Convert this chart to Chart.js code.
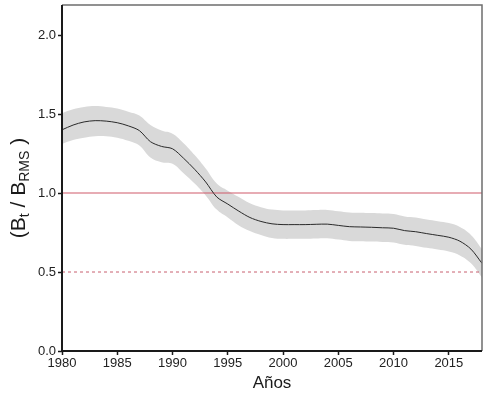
<!DOCTYPE html>
<html>
<head>
<meta charset="utf-8">
<script src="https://cdn.jsdelivr.net/npm/chart.js@4"></script>
<style>
html,body{margin:0;padding:0;background:#fff;}
#wrap{width:492px;height:397px;position:relative;}
</style>
</head>
<body>
<div id="wrap"><canvas id="c" width="492" height="397"></canvas></div>
<script>
const years = [1980,1981,1982,1983,1984,1985,1986,1987,1988,1989,1990,1991,1992,1993,1994,1995,1996,1997,1998,1999,2000,2001,2002,2003,2004,2005,2006,2007,2008,2009,2010,2011,2012,2013,2014,2015,2016,2017,2018];
const ratio = [1.40,1.43,1.45,1.458,1.455,1.445,1.425,1.395,1.325,1.295,1.28,1.22,1.15,1.07,0.975,0.93,0.885,0.845,0.82,0.805,0.80,0.80,0.80,0.802,0.803,0.795,0.787,0.785,0.783,0.78,0.777,0.762,0.755,0.743,0.732,0.72,0.695,0.645,0.555];
const upper = [1.505,1.53,1.545,1.55,1.545,1.535,1.515,1.49,1.43,1.395,1.375,1.315,1.24,1.155,1.06,1.015,0.975,0.935,0.91,0.895,0.89,0.89,0.89,0.892,0.893,0.885,0.877,0.875,0.873,0.87,0.867,0.852,0.845,0.833,0.822,0.81,0.785,0.735,0.645];
const lower = [1.31,1.335,1.35,1.36,1.36,1.35,1.33,1.30,1.225,1.195,1.185,1.125,1.06,0.985,0.895,0.845,0.795,0.76,0.735,0.715,0.71,0.71,0.71,0.712,0.713,0.705,0.697,0.695,0.693,0.69,0.687,0.672,0.665,0.653,0.642,0.63,0.605,0.555,0.465];
const refLimit = [1.0, 1.0];
const refTarget = [0.5, 0.5];
const refYears = [1980, 2018];
const xTicks = [1980,1985,1990,1995,2000,2005,2010,2015];
const yTicks = [0.0,0.5,1.0,1.5,2.0];

const pts = (xs, ys) => xs.map((x, i) => ({x: x, y: ys[i]}));
const FONT = "'Liberation Sans', Arial, sans-serif";

const framePlugin = {
  id: 'frame',
  afterDraw(chart) {
    const ctx = chart.ctx, a = chart.chartArea;
    ctx.save();
    ctx.strokeStyle = '#6e6e6e';
    ctx.lineWidth = 1.5;
    ctx.beginPath();
    ctx.moveTo(a.left, a.top);
    ctx.lineTo(a.right, a.top);
    ctx.lineTo(a.right, a.bottom);
    ctx.stroke();
    ctx.strokeStyle = '#1a1a1a';
    ctx.lineWidth = 2;
    ctx.beginPath();
    ctx.moveTo(a.left, a.top);
    ctx.lineTo(a.left, a.bottom);
    ctx.lineTo(a.right, a.bottom);
    ctx.stroke();
    // x title
    ctx.fillStyle = '#1a1a1a';
    ctx.font = '17px ' + FONT;
    ctx.textAlign = 'center';
    ctx.textBaseline = 'middle';
    ctx.fillText('Años', (a.left + a.right) / 2, 383);
    // y title with subscripts
    ctx.translate(25, 188);
    ctx.rotate(-Math.PI / 2);
    const parts = [
      ['(', 21, 0], ['B', 21, 0], ['t', 14, 4], [' / ', 21, 0], ['B', 21, 0], ['RMS', 14, 4], [' )', 21, 0]
    ];
    let total = 0;
    parts.forEach(p => { ctx.font = p[1] + 'px ' + FONT; total += ctx.measureText(p[0]).width; });
    let x = -total / 2;
    ctx.textAlign = 'left';
    ctx.textBaseline = 'alphabetic';
    parts.forEach(p => {
      ctx.font = p[1] + 'px ' + FONT;
      ctx.fillText(p[0], x, p[2]);
      x += ctx.measureText(p[0]).width;
    });
    ctx.restore();
  }
};

new Chart(document.getElementById('c'), {
  type: 'line',
  data: {
    datasets: [
      { data: pts(years, upper), borderWidth: 0, pointRadius: 0, backgroundColor: '#d9d9d9', fill: '+1', tension: 0.4, order: 5 },
      { data: pts(years, lower), borderWidth: 0, pointRadius: 0, backgroundColor: '#d9d9d9', fill: false, tension: 0.4, order: 5 },
      { data: pts(refYears, refLimit), borderColor: '#d05a6a', borderWidth: 1.2, pointRadius: 0, fill: false, order: 3 },
      { data: pts(refYears, refTarget), borderColor: '#c86070', borderWidth: 1, borderDash: [3, 3], pointRadius: 0, fill: false, order: 3 },
      { data: pts(years, ratio), borderColor: '#2a2a2a', borderWidth: 1, pointRadius: 0, fill: false, tension: 0.3, order: 1 }
    ]
  },
  options: {
    responsive: false,
    animation: false,
    events: [],
    layout: { padding: { top: 5, right: 10, left: 0, bottom: 0 } },
    plugins: { legend: { display: false }, tooltip: { enabled: false } },
    scales: {
      x: {
        type: 'linear', min: 1980, max: 2018,
        afterFit(s) { s.height = 46; s.paddingLeft = 0; s.paddingRight = 0; },
        afterBuildTicks(s) { s.ticks = xTicks.map(v => ({value: v})); },
        grid: { display: true, drawOnChartArea: false, drawTicks: true, tickLength: 4, color: '#1a1a1a', tickWidth: 1.5 },
        border: { display: false },
        ticks: { color: '#222', font: { family: FONT, size: 13 }, padding: 1, maxRotation: 0, autoSkip: false, callback: v => String(v) }
      },
      y: {
        min: 0, max: 2.19,
        afterFit(s) { s.width = 62; s.paddingTop = 0; s.paddingBottom = 0; },
        afterBuildTicks(s) { s.ticks = yTicks.map(v => ({value: v})); },
        grid: { display: true, drawOnChartArea: false, drawTicks: true, tickLength: 4, color: '#1a1a1a', tickWidth: 1.5 },
        border: { display: false },
        ticks: { color: '#222', font: { family: FONT, size: 13 }, padding: 2, callback: v => Number(v).toFixed(1) }
      }
    }
  },
  plugins: [framePlugin]
});
</script>
</body>
</html>
